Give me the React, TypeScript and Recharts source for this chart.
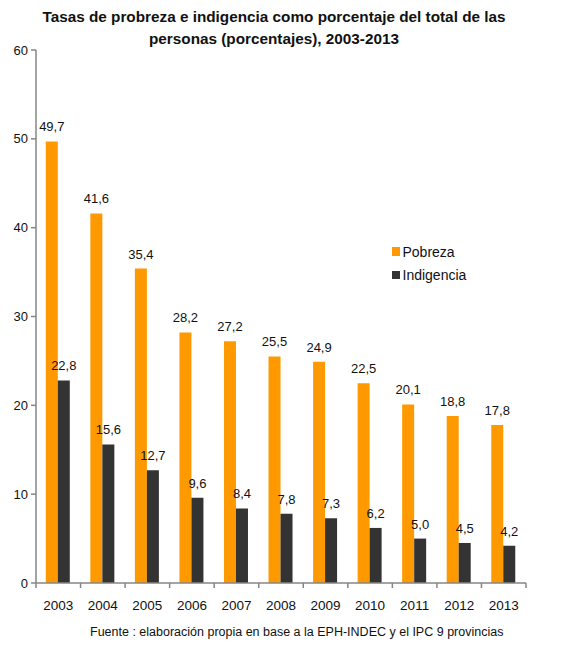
import { BarChart, Bar, XAxis, YAxis, LabelList } from 'recharts';

const years = ['2003', '2004', '2005', '2006', '2007', '2008', '2009', '2010', '2011', '2012', '2013'];
const pobreza = [49.7, 41.6, 35.4, 28.2, 27.2, 25.5, 24.9, 22.5, 20.1, 18.8, 17.8];
const indigencia = [22.8, 15.6, 12.7, 9.6, 8.4, 7.8, 7.3, 6.2, 5.0, 4.5, 4.2];
const yTicks = [0, 10, 20, 30, 40, 50, 60];

const data = years.map((year, i) => ({ year, pobreza: pobreza[i], indigencia: indigencia[i] }));

const FONT = '"Liberation Sans", Arial, sans-serif';
const AXIS = '#868686';
const ORANGE = '#FF9900';
const DARK = '#333333';

const W = 576;
const H = 653;
const margin = { top: 50, right: 50, bottom: 40, left: 0 };
const Y_WIDTH = 36;
const X_HEIGHT = 30;
const band = (W - margin.left - margin.right - Y_WIDTH) / years.length;

const TICK_SIZE = 5;
const TICK_MARGIN = 12;

// category labels centred, tick marks between categories (Excel style)
function YearTick(props: any) {
  const { x, y, payload, index } = props;
  const axisY = y - TICK_SIZE - TICK_MARGIN;
  const left = x - band / 2;
  return (
    <g>
      <line x1={left} x2={left} y1={axisY} y2={axisY + TICK_SIZE} stroke={AXIS} strokeWidth={1.5} />
      {index === years.length - 1 && (
        <line x1={left + band} x2={left + band} y1={axisY} y2={axisY + TICK_SIZE} stroke={AXIS} strokeWidth={1.5} />
      )}
      <text x={x} y={y} dy="0.71em" textAnchor="middle" fontSize={13.5} fill="#111" fontFamily={FONT}>
        {payload.value}
      </text>
    </g>
  );
}

const fmt = (v: any) => Number(v).toFixed(1).replace('.', ',');
const labelStyle = { fontSize: 13, fill: '#111', fontFamily: FONT };

function LegendBox() {
  const items = [
    { name: 'Pobreza', color: ORANGE },
    { name: 'Indigencia', color: DARK },
  ];
  return (
    <div style={{ position: 'absolute', left: 391.5, top: 240, fontFamily: FONT, fontSize: 14, color: '#111' }}>
      {items.map((it) => (
        <div key={it.name} style={{ display: 'flex', alignItems: 'center', height: 23.3 }}>
          <span style={{ width: 8.5, height: 8.5, background: it.color, marginRight: 2.5, display: 'inline-block' }} />
          {it.name}
        </div>
      ))}
    </div>
  );
}

export default function App() {
  return (
    <div style={{ position: 'absolute', left: 0, top: 0, width: W, height: H, background: '#fff' }}>
      <div
        style={{
          position: 'absolute',
          left: 24,
          top: 6,
          width: 500,
          textAlign: 'center',
          fontFamily: FONT,
          fontWeight: 'bold',
          fontSize: 15.3,
          lineHeight: '22px',
          color: '#111',
          whiteSpace: 'nowrap',
        }}
      >
        Tasas de probreza e indigencia como porcentaje del total de las
        <br />
        personas (porcentajes), 2003-2013
      </div>
      <div style={{ position: 'absolute', left: 0, top: 0 }}>
        <BarChart width={W} height={H} data={data} margin={margin} barCategoryGap="22%" barGap={0}>
          <XAxis
            dataKey="year"
            height={X_HEIGHT}
            stroke={AXIS}
            strokeWidth={1.5}
            tickLine={false}
            tickSize={TICK_SIZE}
            tickMargin={TICK_MARGIN}
            tick={YearTick}
            interval={0}
          />
          <YAxis
            width={Y_WIDTH}
            domain={[0, 60]}
            ticks={yTicks}
            interval={0}
            stroke={AXIS}
            strokeWidth={1.5}
            tickSize={5}
            tickMargin={3}
            tick={{ fontSize: 13, fill: '#111', fontFamily: FONT }}
          />
          <Bar dataKey="pobreza" name="Pobreza" fill={ORANGE} isAnimationActive={false}>
            <LabelList dataKey="pobreza" position="top" offset={10} formatter={fmt} style={labelStyle} />
          </Bar>
          <Bar dataKey="indigencia" name="Indigencia" fill={DARK} isAnimationActive={false}>
            <LabelList dataKey="indigencia" position="top" offset={10} formatter={fmt} style={labelStyle} />
          </Bar>
        </BarChart>
      </div>
      <LegendBox />
      <div
        style={{
          position: 'absolute',
          left: 90,
          top: 625,
          width: 412,
          textAlign: 'center',
          fontFamily: FONT,
          fontSize: 12.5,
          color: '#111',
          whiteSpace: 'nowrap',
        }}
      >
        Fuente : elaboración propia en base a la EPH-INDEC y el IPC 9 provincias
      </div>
    </div>
  );
}
